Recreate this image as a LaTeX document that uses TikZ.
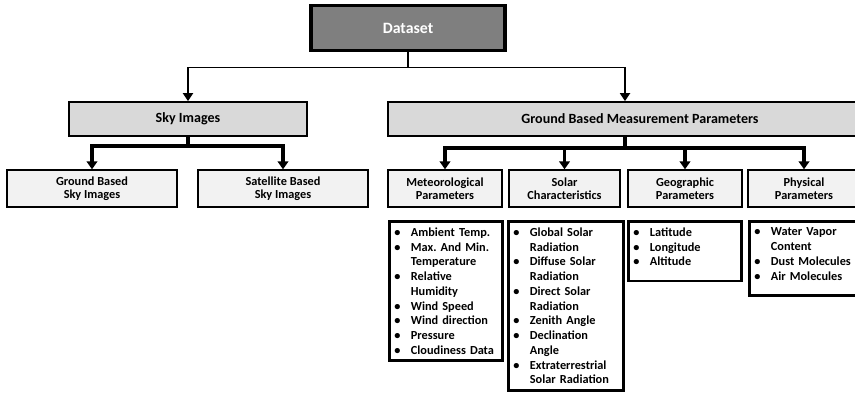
\documentclass[tikz,border=0pt]{standalone}
\usepackage{fontspec}
\setmainfont{Carlito}
\usepackage{tikz}
\usetikzlibrary{arrows.meta}
\definecolor{darkbox}{RGB}{127,127,127}
\definecolor{midbox}{RGB}{217,217,217}
\definecolor{lightbox}{RGB}{242,242,242}
\tikzstyle{topblock} = [draw, line width=2.2pt, fill=darkbox, text=white, font=\bfseries\fontsize{9}{10.8}\selectfont, minimum height=0.9cm, minimum width=3.88cm]
\tikzstyle{catblock} = [draw, line width=1pt, fill=midbox, font=\bfseries\fontsize{8}{9.6}\selectfont, minimum height=0.68cm]
\tikzstyle{subblock} = [draw, line width=0.8pt, fill=lightbox, align=center, font=\bfseries\fontsize{7}{7.4}\selectfont, minimum height=0.74cm]
\tikzstyle{listblock} = [draw, line width=1.6pt, anchor=north west, align=left, inner xsep=0.07cm, inner ysep=3.6pt, font=\bfseries\fontsize{7}{8.4}\selectfont]
\tikzstyle{link} = [line width=1pt, -{Triangle[width=5.7pt,length=4.5pt]}]
\tikzstyle{boldlink} = [line width=2pt, -{Triangle[width=6pt,length=4.5pt]}]
\newcommand{\bitem}[1]{\makebox[0.36cm][l]{\hspace{0.03cm}\textbullet}#1}
\newcommand{\bcont}[1]{\hspace*{0.36cm}#1}
\newcommand{\padbot}{\rule[-5pt]{0pt}{5pt}}

\begin{document}
\frenchspacing
\begin{tikzpicture}
	\clip (0,0) rectangle (17.1,-7.9);
	%\draw[help lines,step=0.5] (0,0) grid (17.1,-7.9);
	\node [topblock] (dataset) at (8.16,-0.56) {Dataset};
	\node [catblock, minimum width=4.76cm] (sky) at (3.76,-2.38) {Sky Images};
	\node [catblock, minimum width=10.08cm] (ground) at (12.80,-2.38) {Ground Based Measurement Parameters};
	
	\node [subblock, minimum width=3.40cm] (gbsky) at (1.84,-3.77) {Ground Based\\Sky Images};
	\node [subblock, minimum width=3.40cm] (satsky) at (5.66,-3.77) {Satellite Based\\Sky Images};
	\node [subblock, minimum width=2.28cm] (meteo) at (8.90,-3.77) {Meteorological\\Parameters};
	\node [subblock, minimum width=2.22cm] (solar) at (11.29,-3.77) {Solar\\Characteristics};
	\node [subblock, minimum width=2.28cm] (geo) at (13.70,-3.77) {Geographic\\Parameters};
	\node [subblock, minimum width=2.24cm] (phys) at (16.08,-3.77) {Physical\\Parameters};
	
	\node [listblock, text width=2.12cm] (meteolist) at (7.76,-4.40) {\bitem{Ambient Temp.}\\ \bitem{Max. And Min.}\\ \bcont{Temperature}\\ \bitem{Relative}\\ \bcont{Humidity}\\ \bitem{Wind Speed}\\ \bitem{Wind direction}\\ \bitem{Pressure}\\ \bitem{Cloudiness Data}};
	\node [listblock, text width=2.16cm] (solarlist) at (10.14,-4.40) {\bitem{Global Solar}\\ \bcont{Radiation}\\ \bitem{Diffuse Solar}\\ \bcont{Radiation}\\ \bitem{Direct Solar}\\ \bcont{Radiation}\\ \bitem{Zenith Angle}\\ \bitem{Declination}\\ \bcont{Angle}\\ \bitem{Extraterrestrial}\\ \bcont{Solar Radiation}};
	\node [listblock, text width=2.12cm] (geolist) at (12.54,-4.40) {\bitem{Latitude}\\ \bitem{Longitude}\\ \bitem{Altitude\padbot}};
	\node [listblock, text width=2.14cm] (physlist) at (14.96,-4.40) {\bitem{Water Vapor}\\ \bcont{Content}\\ \bitem{Dust Molecules}\\ \bitem{Air Molecules\padbot}};
	
	\draw [line width=1pt] (dataset.south) -- ++(0,-0.3) coordinate (split);
	\draw [link] (split) -| (sky.north);
	\draw [link] (split) -| ([xshift=-0.3cm]ground.north);
	
	\draw [line width=2pt] (sky.south) -- ++(0,-0.18) coordinate (skysplit);
	\draw [boldlink] (skysplit) -| (gbsky.north);
	\draw [boldlink] (skysplit) -| (satsky.north);
	
	\draw [line width=2pt] ([xshift=-0.3cm]ground.south) -- ++(0,-0.22) coordinate (groundsplit);
	\draw [boldlink] (groundsplit) -| (meteo.north);
	\draw [boldlink] (groundsplit) -| (solar.north);
	\draw [boldlink] (groundsplit) -| (geo.north);
	\draw [boldlink] (groundsplit) -| (phys.north);
\end{tikzpicture}
\end{document}
